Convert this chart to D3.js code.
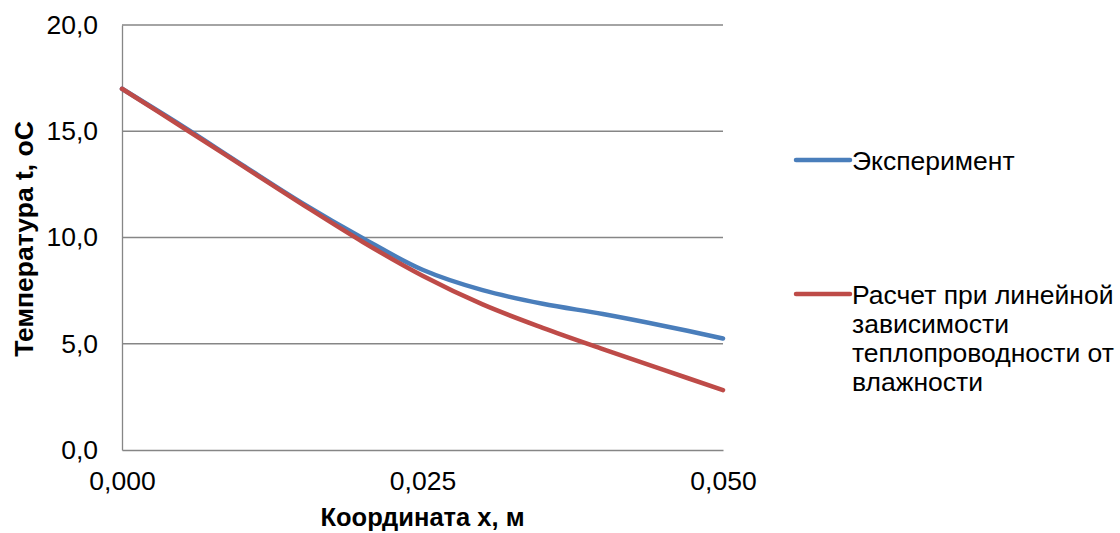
<!DOCTYPE html>
<html>
<head>
<meta charset="utf-8">
<script src="https://cdn.jsdelivr.net/npm/d3@7"></script>
<style>
  body { margin: 0; background: #fff; }
  svg { display: block; font-family: "Liberation Sans", Arial, sans-serif; }
</style>
</head>
<body>
<div id="chart"></div>
<script>
// coordinate along wall, m
const xValues = [0, 0.005, 0.01, 0.015, 0.02, 0.025, 0.03, 0.035, 0.04, 0.045, 0.05];
// measured temperature, oC
const experimentT = [17.0, 15.25, 13.42, 11.62, 9.98, 8.48, 7.52, 6.88, 6.4, 5.85, 5.25];
// calculated temperature (linear conductivity vs moisture), oC
const calcT = [17.0, 15.2, 13.38, 11.56, 9.8, 8.2, 6.85, 5.75, 4.75, 3.78, 2.82];

const xTicks = [0, 0.025, 0.05];
const yTicks = [0, 5, 10, 15, 20];

const legendLines = [["Эксперимент"], ["Расчет при линейной", "зависимости", "теплопроводности от", "влажности"]];
const colors = ["#4a7ebb", "#be4b48"];

const W = 1120, H = 533;
const margin = { top: 25, right: 397, bottom: 83, left: 122 };
const width = W - margin.left - margin.right;
const height = H - margin.top - margin.bottom;

const svg = d3.select("#chart").append("svg")
    .attr("width", W)
    .attr("height", H);

const g = svg.append("g")
    .attr("transform", "translate(" + margin.left + "," + margin.top + ")");

const xScale = d3.scaleLinear().domain([0, 0.05]).range([0, width]);
const yScale = d3.scaleLinear().domain([0, 20]).range([height, 0]);

const fmtX = v => d3.format(".3f")(v).replace(".", ",");
const fmtY = v => d3.format(".1f")(v).replace(".", ",");

// horizontal gridlines
g.append("g")
    .selectAll("line")
    .data(yTicks.filter(d => d > 0))
    .join("line")
    .attr("x1", 0)
    .attr("x2", width)
    .attr("y1", d => yScale(d))
    .attr("y2", d => yScale(d))
    .attr("stroke", "#868686")
    .attr("stroke-width", 1.3);

// y axis
const yAxis = g.append("g")
    .call(d3.axisLeft(yScale).tickValues(yTicks).tickSize(0).tickPadding(24).tickFormat(fmtY));
yAxis.select(".domain").attr("stroke", "#868686").attr("stroke-width", 1.3);
yAxis.selectAll("text").attr("font-size", 26.5).attr("fill", "#000").attr("font-family", "Liberation Sans, Arial, sans-serif");

// x axis
const xAxis = g.append("g")
    .attr("transform", "translate(0," + height + ")")
    .call(d3.axisBottom(xScale).tickValues(xTicks).tickSize(0).tickPadding(21).tickFormat(fmtX));
xAxis.select(".domain").attr("stroke", "#868686").attr("stroke-width", 1.3);
xAxis.selectAll("text").attr("font-size", 26.5).attr("fill", "#000").attr("font-family", "Liberation Sans, Arial, sans-serif");

// smoothed lines like in the spreadsheet
const lineGen = d3.line()
    .x(d => xScale(d[0]))
    .y(d => yScale(d[1]))
    .curve(d3.curveCatmullRom.alpha(0.5));

[experimentT, calcT].forEach((vals, i) => {
    g.append("path")
        .datum(xValues.map((x, j) => [x, vals[j]]))
        .attr("fill", "none")
        .attr("stroke", colors[i])
        .attr("stroke-width", 4.5)
        .attr("stroke-linecap", "round")
        .attr("d", lineGen);
});

// axis titles
svg.append("text")
    .attr("x", margin.left + width / 2)
    .attr("y", 526)
    .attr("text-anchor", "middle")
    .attr("font-size", 25.5)
    .attr("font-weight", "bold")
    .text("Координата х, м");

svg.append("text")
    .attr("transform", "translate(33,239) rotate(-90)")
    .attr("text-anchor", "middle")
    .attr("font-size", 26.5)
    .attr("font-weight", "bold")
    .text("Температура t, оС");

// legend
const legendY = [160, 294];
const legend = svg.append("g");
legendLines.forEach((lines, i) => {
    legend.append("line")
        .attr("x1", 796)
        .attr("x2", 850)
        .attr("y1", legendY[i])
        .attr("y2", legendY[i])
        .attr("stroke", colors[i])
        .attr("stroke-width", 4.5)
        .attr("stroke-linecap", "round");
    const t = legend.append("text")
        .attr("x", 852)
        .attr("y", legendY[i] + 9.5)
        .attr("font-size", 26.5);
    lines.forEach((s, k) => {
        t.append("tspan")
            .attr("x", 852)
            .attr("dy", k === 0 ? 0 : 29)
            .text(s);
    });
});
</script>
</body>
</html>
